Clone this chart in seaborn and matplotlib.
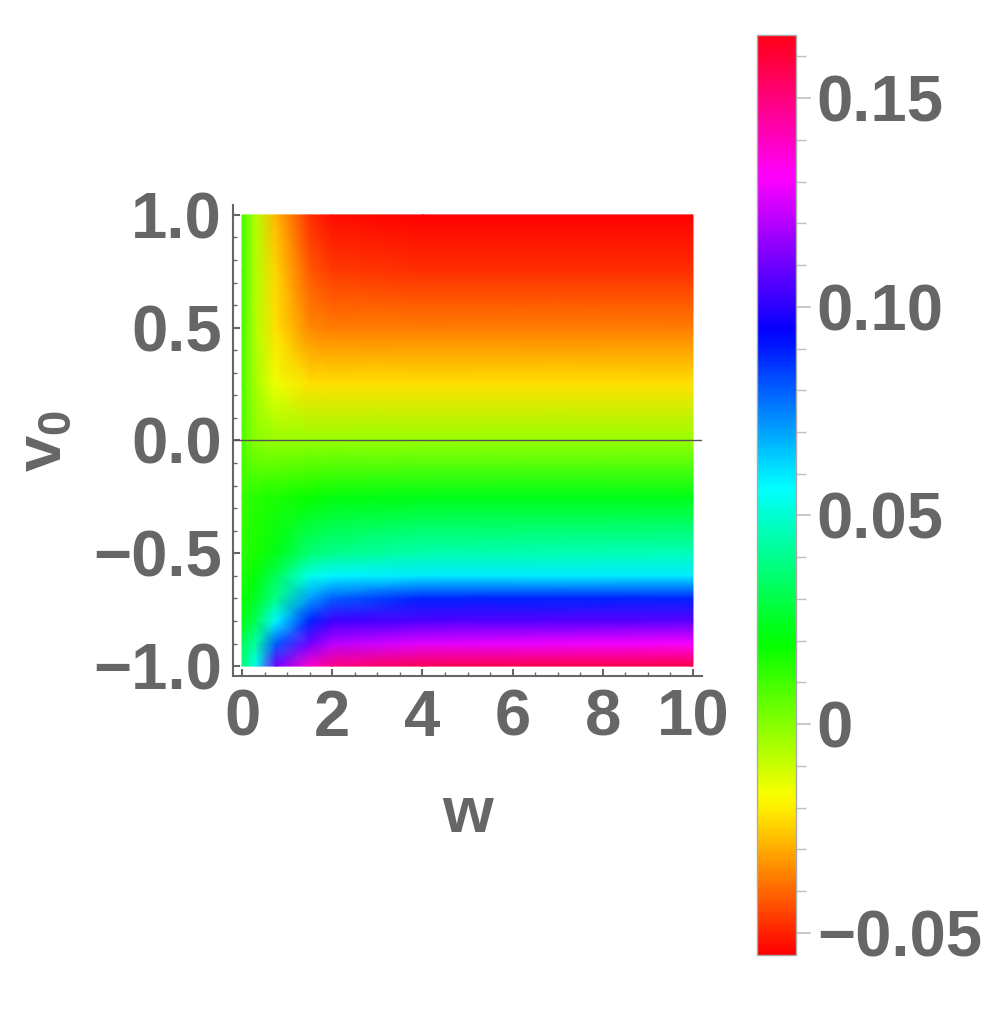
import numpy as np
import matplotlib
matplotlib.use('Agg')
import matplotlib.pyplot as plt
from matplotlib.ticker import MultipleLocator
import seaborn as sns

sns.set_style('ticks')
plt.rcParams['font.family'] = ['Liberation Sans', 'DejaVu Sans']
plt.rcParams['font.weight'] = 'bold'
plt.rcParams['axes.labelweight'] = 'bold'
plt.rcParams['mathtext.fontset'] = 'custom'
plt.rcParams['mathtext.rm'] = 'Liberation Sans:bold'
plt.rcParams['mathtext.it'] = 'Liberation Sans:bold'
plt.rcParams['axes.unicode_minus'] = True

# grid
w_vals = [0, 0.3, 0.75, 1.5, 2, 4, 10]
v0_vals = [-1, -0.9, -0.8, -0.7, -0.6, -0.5, -0.25, 0, 0.25, 0.5, 0.75, 1]

# one row per v0 value (bottom to top), one entry per w value
row_m100 = [0.036, 0.054, 0.110, 0.138, 0.149, 0.156, 0.158]
row_m090 = [0.032, 0.043, 0.080, 0.110, 0.121, 0.127, 0.130]
row_m080 = [0.023, 0.032, 0.058, 0.089, 0.103, 0.105, 0.107]
row_m070 = [0.018, 0.025, 0.040, 0.071, 0.080, 0.089, 0.089]
row_m060 = [0.016, 0.021, 0.032, 0.054, 0.058, 0.060, 0.060]
row_m050 = [0.014, 0.016, 0.023, 0.036, 0.040, 0.045, 0.047]
row_m025 = [0.011, 0.014, 0.016, 0.018, 0.021, 0.023, 0.023]
row_p000 = [0.008, -0.001, -0.002, -0.002, -0.002, -0.002, -0.002]
row_p025 = [0.008, -0.005, -0.015, -0.022, -0.022, -0.022, -0.022]
row_p050 = [0.009, -0.007, -0.022, -0.035, -0.037, -0.037, -0.037]
row_p075 = [0.010, -0.007, -0.024, -0.042, -0.046, -0.048, -0.048]
row_p100 = [0.010, -0.007, -0.028, -0.048, -0.053, -0.055, -0.055]

field = np.array([row_m100, row_m090, row_m080, row_m070, row_m060, row_m050,
                  row_m025, row_p000, row_p025, row_p050, row_p075, row_p100])

cbar_ticks = [-0.05, 0, 0.05, 0.10, 0.15]
cbar_labels = ['\u22120.05', '0', '0.05', '0.10', '0.15']

gray = '#666666'
fs = 47

fig = plt.figure(figsize=(10, 10.31), dpi=100)
ax = fig.add_axes([0.233, 0.3443, 0.469, 0.4569])
cax = fig.add_axes([0.757, 0.0737, 0.039, 0.8923])

W, V = np.meshgrid(w_vals, v0_vals)
mesh = ax.pcolormesh(W, V, field, shading='gouraud', cmap='hsv',
                     vmin=-0.0553, vmax=0.1651)
ax.set_xlim(-0.2, 10.2)
ax.set_ylim(-1.044, 1.044)
ax.axhline(0, color='#555555', lw=1)

for s in ['top', 'right']:
    ax.spines[s].set_visible(False)
for s in ['left', 'bottom']:
    ax.spines[s].set_color(gray)
    ax.spines[s].set_linewidth(1.5)

ax.xaxis.set_major_locator(MultipleLocator(2))
ax.xaxis.set_minor_locator(MultipleLocator(0.5))
ax.yaxis.set_major_locator(MultipleLocator(0.5))
ax.yaxis.set_minor_locator(MultipleLocator(0.1))
ax.tick_params(which='both', direction='in', color=gray, labelcolor=gray,
               labelsize=fs)
ax.tick_params(which='major', length=5, width=1.5)
ax.tick_params(which='minor', length=3, width=1)
ax.tick_params(axis='x', pad=9)
ax.tick_params(axis='y', pad=8)

ax.set_xlabel('w', fontsize=fs, color=gray, fontweight='bold', labelpad=26)
ax.set_ylabel(r'$\mathrm{v_0}$', fontsize=fs, color=gray, labelpad=14)

cb = fig.colorbar(mesh, cax=cax)
cb.set_ticks(cbar_ticks)
cb.set_ticklabels(cbar_labels)
cb.ax.yaxis.set_minor_locator(MultipleLocator(0.01))
cb.outline.set_edgecolor('#aaaaaa')
cb.outline.set_linewidth(1)
cax.tick_params(which='both', direction='out', color='#c0c0c0',
                labelcolor=gray, labelsize=fs, pad=4)
cax.tick_params(which='major', length=11, width=1.2)
cax.tick_params(which='minor', length=7, width=1)

fig.savefig('out.png', dpi=100)
